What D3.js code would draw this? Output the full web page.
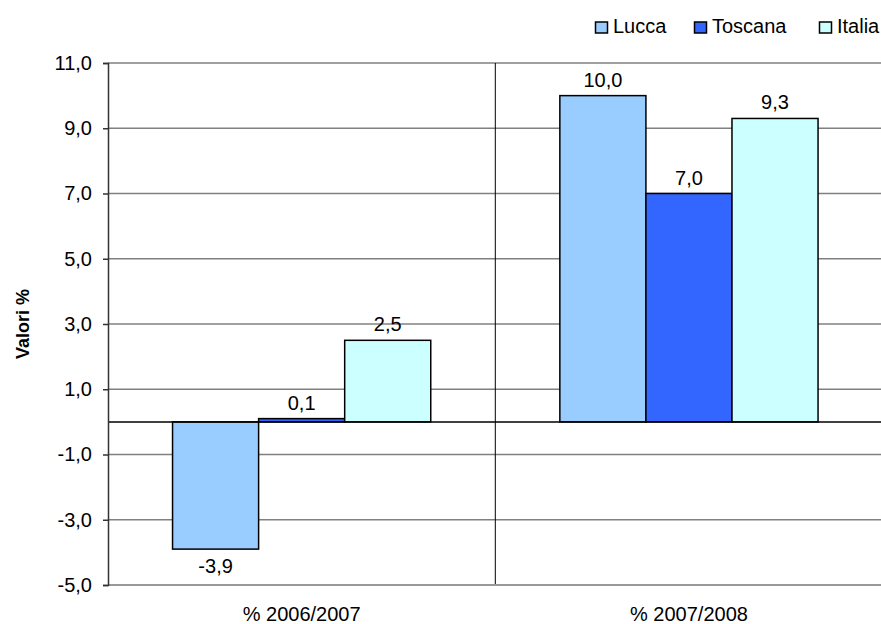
<!DOCTYPE html>
<html>
<head>
<meta charset="utf-8">
<script src="https://cdn.jsdelivr.net/npm/d3@7"></script>
<style>
  body { margin: 0; background: #fff; }
  svg { display: block; font-family: Arial, 'Liberation Sans', sans-serif; }
</style>
</head>
<body>
<svg id="chart" width="881" height="624"></svg>
<script>
const categories = ['% 2006/2007', '% 2007/2008'];
const series = ['Lucca', 'Toscana', 'Italia'];
const lucca = [-3.9, 10.0];
const toscana = [0.1, 7.0];
const italia = [2.5, 9.3];
const yTicks = [-5, -3, -1, 1, 3, 5, 7, 9, 11];
const colors = ['#99ccff', '#3366ff', '#ccffff'];

const values = [lucca, toscana, italia];

class DrawChart {
  constructor() {
    this.svg = d3.select('#chart');
    this.margin = { top: 63, left: 108, bottom: 585, right: 882.6 };
    this.fontSize = 20;

    this.x0 = d3.scaleBand()
      .domain(categories)
      .range([this.margin.left, this.margin.right]);

    // barre attaccate, spazio ai lati del gruppo
    this.x1 = d3.scaleBand()
      .domain(series)
      .range([0, this.x0.bandwidth()])
      .paddingInner(0)
      .paddingOuter(0.75);

    this.y = d3.scaleLinear()
      .domain([-5, 11])
      .range([this.margin.bottom, this.margin.top]);

    this.rows = [];
    categories.forEach((c, i) => {
      series.forEach((s, j) => {
        this.rows.push({ category: c, serie: s, value: values[j][i], color: colors[j] });
      });
    });
  }

  draw() {
    this.svg.html('');
    this.drawGrid();
    this.drawBars();
    this.drawAxes();
    this.drawLabels();
    this.drawLegend();
  }

  fmt(d) {
    return d.toFixed(1).replace('.', ',');
  }

  drawGrid() {
    const g = this.svg.append('g').attr('class', 'grid');
    g.selectAll('line')
      .data(yTicks.filter(d => d !== -5))
      .enter()
      .append('line')
      .attr('x1', this.margin.left)
      .attr('x2', this.margin.right)
      .attr('y1', d => this.y(d))
      .attr('y2', d => this.y(d))
      .attr('stroke', '#808080')
      .attr('stroke-width', 1.5);

    // separatore tra le categorie
    g.append('line')
      .attr('x1', this.x0(categories[1]))
      .attr('x2', this.x0(categories[1]))
      .attr('y1', this.margin.top)
      .attr('y2', this.margin.bottom)
      .attr('stroke', '#000')
      .attr('stroke-width', 1);
  }

  drawBars() {
    this.svg.append('g')
      .attr('class', 'bars')
      .selectAll('rect')
      .data(this.rows)
      .enter()
      .append('rect')
      .attr('x', d => this.x0(d.category) + this.x1(d.serie))
      .attr('width', this.x1.bandwidth())
      .attr('y', d => this.y(Math.max(0, d.value)))
      .attr('height', d => Math.abs(this.y(d.value) - this.y(0)))
      .attr('fill', d => d.color)
      .attr('stroke', '#000')
      .attr('stroke-width', 1.5);
  }

  drawAxes() {
    // linea dello zero
    this.svg.append('line')
      .attr('x1', this.margin.left)
      .attr('x2', this.margin.right)
      .attr('y1', this.y(0))
      .attr('y2', this.y(0))
      .attr('stroke', '#000')
      .attr('stroke-width', 1.5);

    this.svg.append('line')
      .attr('x1', this.margin.left)
      .attr('x2', this.margin.right)
      .attr('y1', this.margin.bottom)
      .attr('y2', this.margin.bottom)
      .attr('stroke', '#999')
      .attr('stroke-width', 2);

    const yAxis = d3.axisLeft(this.y)
      .tickValues(yTicks)
      .tickSize(5)
      .tickPadding(11)
      .tickFormat(d => this.fmt(d));

    const ga = this.svg.append('g')
      .attr('transform', `translate(${this.margin.left},0)`)
      .call(yAxis);
    ga.select('.domain').attr('stroke', '#333').attr('stroke-width', 1.5);
    ga.selectAll('.tick line').attr('stroke', '#333').attr('stroke-width', 1.5);
    ga.selectAll('.tick text')
      .attr('font-size', this.fontSize)
      .attr('font-family', 'Arial, Liberation Sans, sans-serif')
      .attr('fill', '#000');

    this.svg.append('g')
      .selectAll('text')
      .data(categories)
      .enter()
      .append('text')
      .attr('x', d => this.x0(d) + this.x0.bandwidth() / 2)
      .attr('y', 621)
      .attr('text-anchor', 'middle')
      .attr('font-size', this.fontSize)
      .text(d => d);

    this.svg.append('text')
      .attr('transform', `translate(29,${(this.margin.top + this.margin.bottom) / 2}) rotate(-90)`)
      .attr('text-anchor', 'middle')
      .attr('font-size', 18)
      .attr('font-weight', 'bold')
      .text('Valori %');
  }

  drawLabels() {
    this.svg.append('g')
      .attr('class', 'labels')
      .selectAll('text')
      .data(this.rows)
      .enter()
      .append('text')
      .attr('x', d => this.x0(d.category) + this.x1(d.serie) + this.x1.bandwidth() / 2)
      .attr('y', d => (d.value >= 0 ? this.y(d.value) - 9 : this.y(d.value) + 24))
      .attr('text-anchor', 'middle')
      .attr('font-size', this.fontSize)
      .text(d => this.fmt(d.value));
  }

  drawLegend() {
    const offsets = [595, 694, 819];
    const g = this.svg.append('g').attr('class', 'legend');
    const items = g.selectAll('g')
      .data(series)
      .enter()
      .append('g')
      .attr('transform', (d, i) => `translate(${offsets[i]},0)`);
    items.append('rect')
      .attr('x', 0.5)
      .attr('y', 22)
      .attr('width', 12)
      .attr('height', 11)
      .attr('fill', (d, i) => colors[i])
      .attr('stroke', '#000')
      .attr('stroke-width', 1.5);
    items.append('text')
      .attr('x', 18)
      .attr('y', 32.5)
      .attr('font-size', 20)
      .text(d => d);
  }
}

new DrawChart().draw();
</script>
</body>
</html>
